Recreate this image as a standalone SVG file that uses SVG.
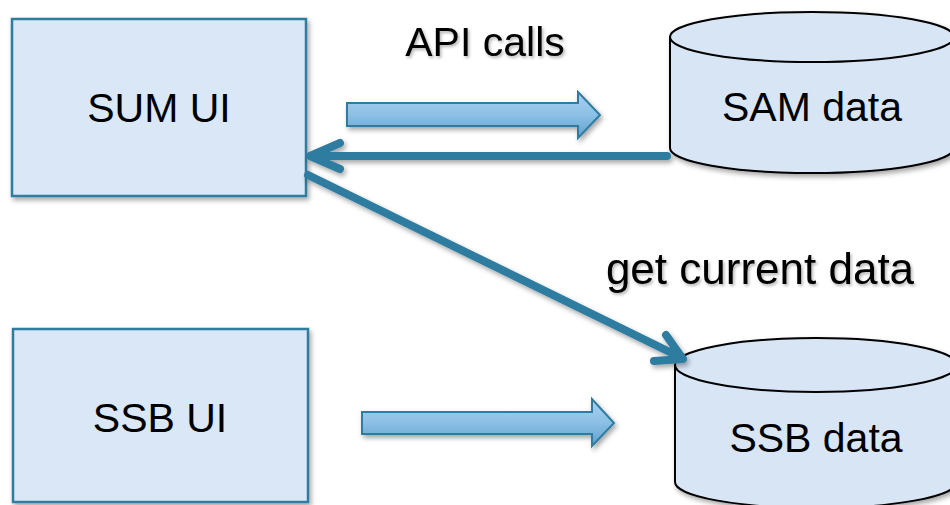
<svg xmlns="http://www.w3.org/2000/svg" width="950" height="505" viewBox="0 0 950 505">
  <defs>
    <linearGradient id="blockGrad" x1="0" y1="0" x2="0" y2="1">
      <stop offset="0" stop-color="#a8d0ef"/>
      <stop offset="0.5" stop-color="#8cc0e6"/>
      <stop offset="1" stop-color="#5f9fcc"/>
    </linearGradient>
    <filter id="shadow" x="-10%" y="-10%" width="130%" height="140%">
      <feDropShadow dx="2" dy="3" stdDeviation="2.5" flood-color="#000" flood-opacity="0.35"/>
    </filter>
    <filter id="textShadow" x="-5%" y="-20%" width="115%" height="150%">
      <feDropShadow dx="1.5" dy="2" stdDeviation="1.5" flood-color="#000" flood-opacity="0.3"/>
    </filter>
  </defs>
  <style>
    .box { fill: #d9e7f6; stroke: #2e7ca0; stroke-width: 2.5; }
    .cyl { fill: #d7e5f5; stroke: #000; stroke-width: 2; }
    .label { font-family: "Liberation Sans", Arial, sans-serif; font-size: 41px; fill: #000; text-anchor: middle; }
    .big { font-size: 44px; }
    .block { fill: url(#blockGrad); stroke: #2e7ca0; stroke-width: 2; stroke-linejoin: miter; }
    .line { fill: none; stroke: #2e7ca0; stroke-width: 8; stroke-linecap: round; stroke-linejoin: round; }
  </style>
  <rect width="950" height="505" fill="#ffffff"/>

  <g id="sum-ui">
    <rect class="box" x="12" y="19" width="294" height="177" filter="url(#shadow)"/>
    <text class="label" x="159" y="122">SUM UI</text>
  </g>

  <g id="ssb-ui">
    <rect class="box" x="13" y="329" width="295" height="173" filter="url(#shadow)"/>
    <text class="label" x="160" y="432">SSB UI</text>
  </g>

  <g id="sam-data">
    <path class="cyl" filter="url(#shadow)" d="M670,37 L670,148 A142,25 0 0 0 954,148 L954,37 A142,25 0 0 0 670,37 Z"/>
    <path class="cyl" fill="none" d="M670,37 A142,25 0 0 0 954,37"/>
    <text class="label" x="812" y="121">SAM data</text>
  </g>

  <g id="ssb-data">
    <path class="cyl" filter="url(#shadow)" d="M675,365 L675,482 A141,26 0 0 0 957,482 L957,365 A141,27 0 0 0 675,365 Z"/>
    <path class="cyl" fill="none" d="M675,365 A141,27 0 0 0 957,365"/>
    <text class="label" x="816" y="452">SSB data</text>
  </g>

  <g id="connectors">
    <path class="block" filter="url(#shadow)" d="M347,103 L578,103 L578,92 L600,115 L578,138 L578,126 L347,126 Z"/>
    <path class="block" filter="url(#shadow)" d="M362,412 L592,412 L592,399 L614,423 L592,446 L592,434 L362,434 Z"/>
    <g filter="url(#shadow)">
      <path class="line" d="M667,156 L312,156 M340,143 L310,156 L340,169"/>
      <path class="line" d="M308,175 L682,358 M666,335 L683,359 L654,361"/>
    </g>
  </g>

  <g id="edge-labels" filter="url(#textShadow)">
    <text class="label" x="485" y="56">API calls</text>
    <text class="label big" x="760" y="284">get current data</text>
  </g>
</svg>
